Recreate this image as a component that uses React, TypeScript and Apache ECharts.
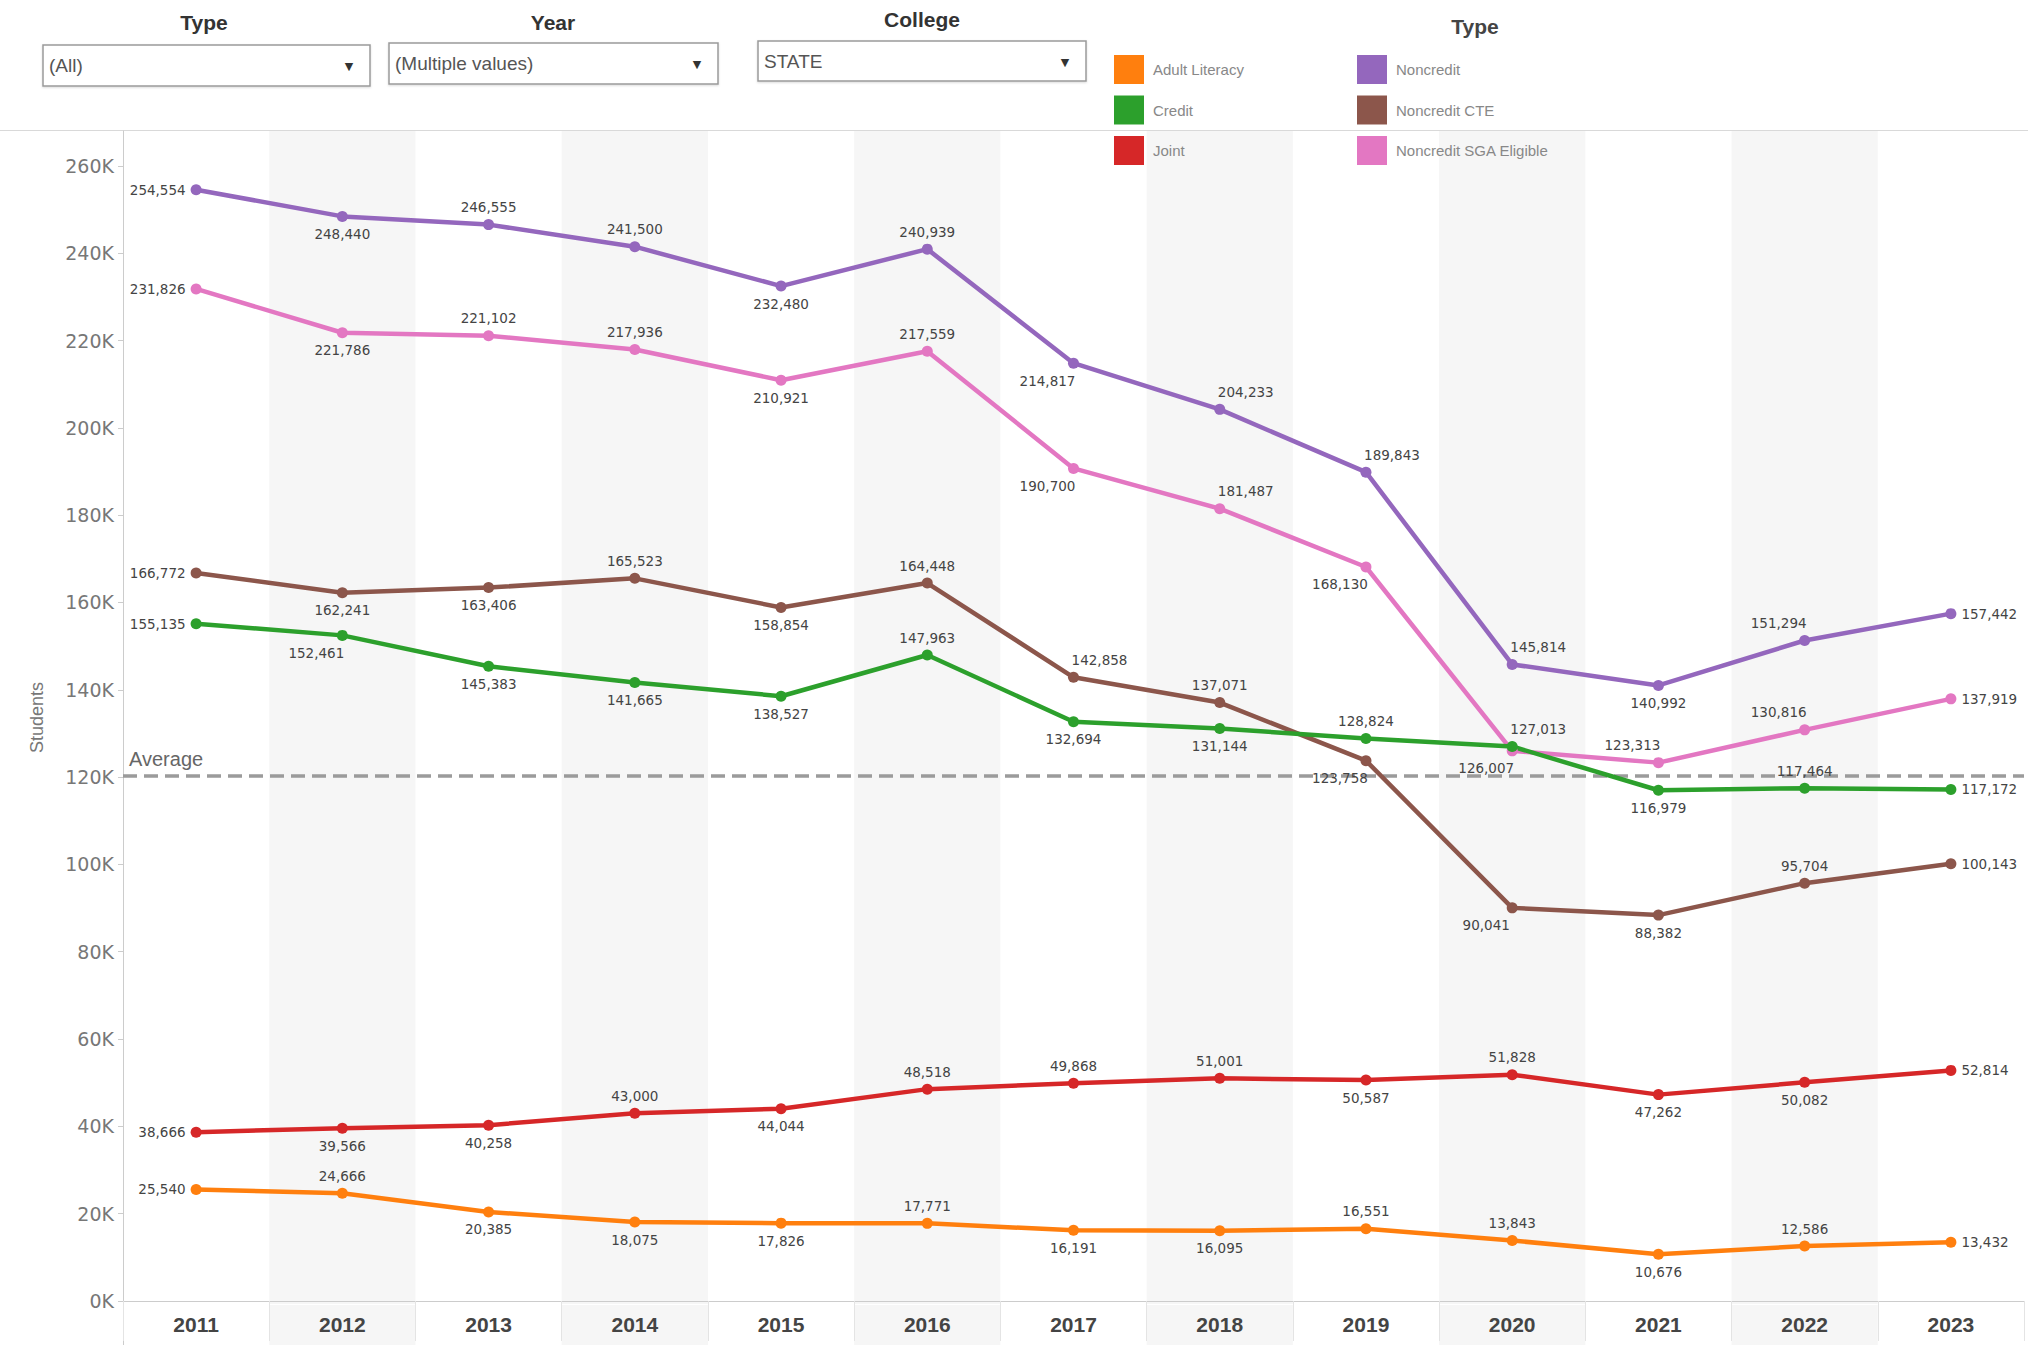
import React, { useEffect, useRef } from "react";
import * as echarts from "echarts";

const YEARS = ["2011", "2012", "2013", "2014", "2015", "2016", "2017", "2018", "2019", "2020", "2021", "2022", "2023"];

const ADULT_LITERACY = [25540, 24666, 20385, 18075, 17826, 17771, 16191, 16095, 16551, 13843, 10676, 12586, 13432];
const CREDIT = [155135, 152461, 145383, 141665, 138527, 147963, 132694, 131144, 128824, 127013, 116979, 117464, 117172];
const JOINT = [38666, 39566, 40258, 43000, 44044, 48518, 49868, 51001, 50587, 51828, 47262, 50082, 52814];
const NONCREDIT = [254554, 248440, 246555, 241500, 232480, 240939, 214817, 204233, 189843, 145814, 140992, 151294, 157442];
const NONCREDIT_CTE = [166772, 162241, 163406, 165523, 158854, 164448, 142858, 137071, 123758, 90041, 88382, 95704, 100143];
const NONCREDIT_SGA = [231826, 221786, 221102, 217936, 210921, 217559, 190700, 181487, 168130, 126007, 123313, 130816, 137919];

const Y_TICKS = [0, 20000, 40000, 60000, 80000, 100000, 120000, 140000, 160000, 180000, 200000, 220000, 240000, 260000];

const FILTER_TITLES = ["Type", "Year", "College"];
const FILTER_VALUES = ["(All)", "(Multiple values)", "STATE"];

const LEGEND_LEFT = ["Adult Literacy", "Credit", "Joint"];
const LEGEND_RIGHT = ["Noncredit", "Noncredit CTE", "Noncredit SGA Eligible"];

// label placement (style only)
const PLACE: Record<string, string[]> = {
  "Adult Literacy": ["L", "T", "B", "B", "B", "T", "B", "B", "T", "T", "B", "T", "R"],
  Credit: ["L", "BL", "B", "B", "B", "T", "B", "B", "T", "TR", "B", "T", "R"],
  Joint: ["L", "B", "B", "T", "B", "T", "T", "T", "B", "T", "B", "B", "R"],
  Noncredit: ["L", "B", "T", "T", "B", "T", "BL", "TR", "TR", "TR", "B", "TL", "R"],
  "Noncredit CTE": ["L", "B", "B", "T", "B", "T", "TR", "T", "BL", "BL", "B", "T", "R"],
  "Noncredit SGA Eligible": ["L", "B", "T", "T", "B", "T", "BL", "TR", "BL", "BL", "TL", "TL", "R"],
};

const SERIES = [
  { name: "Noncredit", data: NONCREDIT, color: "#9467bd" },
  { name: "Noncredit SGA Eligible", data: NONCREDIT_SGA, color: "#e377c2" },
  { name: "Noncredit CTE", data: NONCREDIT_CTE, color: "#8c564b" },
  { name: "Credit", data: CREDIT, color: "#2ca02c" },
  { name: "Joint", data: JOINT, color: "#d62728" },
  { name: "Adult Literacy", data: ADULT_LITERACY, color: "#ff7f0e" },
];

const FONT = "'Liberation Sans', Arial, sans-serif";
const WIDE = "'DejaVu Sans', Verdana, sans-serif";

function labelFor(code: string) {
  switch (code) {
    case "T":
      return { position: "top" };
    case "B":
      return { position: "bottom" };
    case "L":
      return { position: "left" };
    case "R":
      return { position: "right" };
    case "TR":
      return { position: "top", offset: [26, 0] };
    case "TL":
      return { position: "top", offset: [-26, 0] };
    case "BL":
      return { position: "bottom", offset: [-26, 0] };
    default:
      return { position: "top" };
  }
}

const fmt = (v: number) => v.toLocaleString("en-US");

export default function App() {
  const ref = useRef<HTMLDivElement>(null);

  useEffect(() => {
    if (!ref.current) return;
    const chart = echarts.init(ref.current, null, { renderer: "svg" });

    const all = SERIES.flatMap((s) => s.data);
    const average = all.reduce((a, b) => a + b, 0) / all.length;

    const boxes = [
      { x: 43, y: 45, w: 327, h: 41, tx: 204, ty: 22 },
      { x: 389, y: 43, w: 329, h: 41, tx: 553, ty: 22 },
      { x: 758, y: 41, w: 328, h: 40, tx: 922, ty: 19 },
    ];

    const graphic: any[] = [
      {
        type: "line",
        shape: { x1: 0, y1: 130.5, x2: 2028, y2: 130.5 },
        style: { stroke: "#d9d9d9", lineWidth: 1 },
        z: 0,
      },
      {
        type: "line",
        shape: { x1: 123.5, y1: 1304, x2: 123.5, y2: 1345 },
        style: { stroke: "#cccccc", lineWidth: 1 },
      },
      {
        type: "text",
        x: 1475,
        y: 26,
        style: { text: "Type", fontSize: 21, fontWeight: 600, fill: "#444", textAlign: "center", textVerticalAlign: "middle", fontFamily: FONT },
      },
    ];
    boxes.forEach((b, i) => {
      graphic.push({
        type: "text",
        x: b.tx,
        y: b.ty,
        style: { text: FILTER_TITLES[i], fontSize: 21, fontWeight: 600, fill: "#333", textAlign: "center", textVerticalAlign: "middle", fontFamily: FONT },
      });
      graphic.push({
        type: "rect",
        shape: { x: b.x, y: b.y, width: b.w, height: b.h },
        style: { fill: "#fff", stroke: "#9a9a9a", lineWidth: 1.5, shadowBlur: 2, shadowColor: "rgba(0,0,0,0.15)", shadowOffsetY: 1 },
      });
      graphic.push({
        type: "text",
        x: b.x + 6,
        y: b.y + b.h / 2,
        style: { text: FILTER_VALUES[i], fontSize: 19, fill: "#555", textVerticalAlign: "middle", fontFamily: FONT },
      });
      graphic.push({
        type: "text",
        x: b.x + b.w - 21,
        y: b.y + b.h / 2 + 1,
        style: { text: "▼", fontSize: 11, fill: "#333", textAlign: "center", textVerticalAlign: "middle", fontFamily: "DejaVu Sans" },
      });
    });

    const legendCommon = {
      orient: "vertical",
      top: 50,
      itemWidth: 30,
      itemHeight: 29,
      itemGap: 11.5,
      icon: "rect",
      selectedMode: false,
      textStyle: { fontSize: 15, color: "#888", fontFamily: FONT, padding: [0, 0, 0, 4] },
    };

    const option: any = {
      animation: false,
      backgroundColor: "#ffffff",
      textStyle: { fontFamily: FONT },
      grid: { left: 123, right: 4, top: 131, bottom: 41, containLabel: false },
      legend: [
        { ...legendCommon, left: 1109, data: LEGEND_LEFT },
        { ...legendCommon, left: 1352, data: LEGEND_RIGHT },
      ],
      xAxis: {
        type: "category",
        data: YEARS,
        boundaryGap: true,
        axisLine: { show: true, lineStyle: { color: "#cccccc", width: 1 } },
        axisTick: { show: true, interval: 0, length: 40, lineStyle: { color: "#e4e4e4" } },
        axisLabel: { fontSize: 21, fontWeight: "bold", color: "#444", margin: 10, interval: 0 },
        splitLine: { show: false },
        splitArea: { show: true, interval: 0, areaStyle: { color: ["rgba(255,255,255,0)", "#f6f6f6"] } },
      },
      yAxis: {
        type: "value",
        min: -700,
        max: 268000,
        name: "Students",
        nameLocation: "middle",
        nameRotate: 90,
        nameGap: 77,
        nameTextStyle: { fontSize: 18, color: "#777" },
        axisLine: { show: true, lineStyle: { color: "#cccccc", width: 1 } },
        axisTick: { show: true, length: 5, lineStyle: { color: "#cccccc" }, customValues: Y_TICKS },
        axisLabel: {
          customValues: Y_TICKS,
          fontSize: 19,
          fontFamily: WIDE,
          color: "#777",
          margin: 9,
          formatter: (v: number) => (Y_TICKS.includes(v) ? `${v / 1000}K` : ""),
        },
        splitLine: { show: false },
      },
      series: SERIES.map((s, si) => ({
        name: s.name,
        type: "line",
        data: s.data.map((v, i) => ({ value: v, label: labelFor(PLACE[s.name][i]) })),
        color: s.color,
        lineStyle: { width: 4.5, color: s.color },
        itemStyle: { color: s.color },
        symbol: "circle",
        symbolSize: 11,
        z: 3,
        label: {
          show: true,
          fontSize: 13.5,
          fontFamily: WIDE,
          color: "#444",
          distance: 5,
          formatter: (p: any) => fmt(p.value),
        },
        markLine:
          si === 0
            ? {
                silent: true,
                symbol: "none",
                z: 2,
                data: [{ yAxis: average }],
                lineStyle: { color: "#9b9b9b", width: 3.5, type: [14, 7] },
                label: { show: true, position: "insideStartTop", formatter: "Average", fontSize: 20, color: "#666", distance: 6 },
              }
            : undefined,
      })),
      graphic,
    };

    chart.setOption(option);

    // extend the alternating bands below the x axis, positioned through the axis scale
    const x0 = chart.convertToPixel({ xAxisIndex: 0 }, YEARS[0]) as number;
    const x1 = chart.convertToPixel({ xAxisIndex: 0 }, YEARS[1]) as number;
    const bw = x1 - x0;
    const bandRects: any[] = [];
    YEARS.forEach((y, i) => {
      if (i % 2 === 1) {
        const cx = chart.convertToPixel({ xAxisIndex: 0 }, y) as number;
        bandRects.push({
          type: "rect",
          shape: { x: cx - bw / 2, y: 1305, width: bw, height: 40 },
          style: { fill: "#f6f6f6" },
          z: -1,
          silent: true,
        });
      }
    });
    chart.setOption({ graphic: [...graphic, ...bandRects] });

    return () => chart.dispose();
  }, []);

  return <div ref={ref} style={{ position: "absolute", left: 0, top: 0, width: 2028, height: 1345 }} />;
}
